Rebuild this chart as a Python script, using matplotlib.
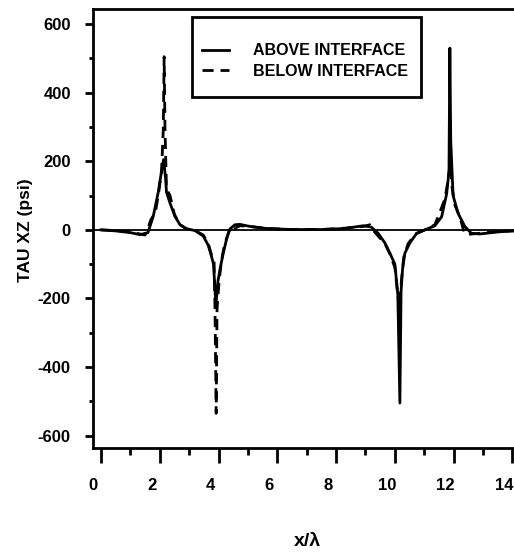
import numpy as np
import matplotlib
matplotlib.use("Agg")
from matplotlib import pyplot as plt
from matplotlib.ticker import MultipleLocator
from matplotlib.patches import Rectangle
from matplotlib.transforms import ScaledTranslation

# tau_xz above the interface (solid)
x_above = [0, 0.5, 1.0, 1.33, 1.6, 1.78, 1.95, 2.06, 2.13, 2.2, 2.23, 2.35, 2.52, 2.69, 2.91,
           3.2, 3.48, 3.65, 3.77, 3.83, 3.91, 3.98, 4.05, 4.16, 4.28, 4.39, 4.56, 4.73, 5.07,
           5.64, 6.5, 7.5, 8.3, 8.92, 9.2, 9.43, 9.66, 9.83, 10.0, 10.1, 10.17, 10.21, 10.26,
           10.34, 10.51, 10.74, 11.02, 11.36, 11.59, 11.76, 11.84, 11.87, 11.9, 11.98, 12.15,
           12.38, 12.6, 12.88, 13.5, 14.2]
tau_above = [0, -3, -8, -14, -8, 40, 110, 170, 205, 150, 110, 78, 39, 15, 3,
             -2, -18, -45, -80, -100, -220, -150, -115, -68, -25, 3, 15, 16, 10,
             4, 1, 1, 4, 12, 8, -10, -38, -68, -100, -190, -505, -180, -115,
             -68, -38, -10, 0, 12, 38, 105, 170, 530, 260, 100, 48,
             10, -10, -12, -6, -2]

# tau_xz below the interface (dashed)
x_below = [0, 0.5, 1.0, 1.33, 1.5, 1.62, 1.7, 1.85, 1.95, 2.06, 2.12, 2.15, 2.18, 2.23, 2.35,
           2.5, 2.69, 2.91, 3.2, 3.48, 3.65, 3.77, 3.85, 3.88, 3.92, 3.95, 4.02, 4.1, 4.2,
           4.35, 4.45, 4.56, 4.73, 5.07, 5.64, 6.5, 7.5, 8.3, 8.92, 9.15, 9.3, 9.45, 9.66,
           9.83, 10.0, 10.15, 10.22, 10.3, 10.45, 10.7, 11.02, 11.36, 11.5, 11.7, 11.8, 11.88,
           11.95, 12.05, 12.2, 12.35, 12.45, 12.6, 12.88, 13.5, 14.2]
tau_below = [0, -2, -6, -12, -15, 10, 30, 50, 100, 170, 290, 505, 290, 120, 100,
             45, 15, 3, -2, -15, -40, -75, -95, -230, -535, -230, -150, -90, -45,
             -5, 10, 5, 12, 10, 4, 1, 1, 5, 10, 15, -5, -20, -40,
             -70, -110, -230, -150, -80, -40, -12, 0, 15, 45, 90, 140, 195,
             120, 70, 40, -5, -15, -12, -10, -5, -2]

plt.rcParams['font.family'] = ['Liberation Sans', 'DejaVu Sans']
plt.rcParams['font.weight'] = 'bold'
plt.rcParams['axes.unicode_minus'] = False

W, H = 514, 556
fig = plt.figure(figsize=(W / 100, H / 100), dpi=100)
ax = fig.add_axes([93 / W, 108 / H, 423 / W, 439 / H])

ax.axhline(0, color='black', lw=1.3)
ax.plot(x_above, tau_above, color='black', lw=2, label='ABOVE INTERFACE')
ax.plot(x_below, tau_below, color='black', lw=2, dashes=(4, 2.5), label='BELOW INTERFACE')

ax.set_xlim(-0.27, 14.12)
ax.set_ylim(-636, 644)
ax.xaxis.set_major_locator(MultipleLocator(2))
ax.xaxis.set_minor_locator(MultipleLocator(1))
ax.yaxis.set_major_locator(MultipleLocator(200))
ax.yaxis.set_minor_locator(MultipleLocator(100))
ax.tick_params(axis='x', which='major', length=10.8, width=2, pad=11, labelsize=12)
ax.tick_params(axis='x', which='minor', length=5, width=2)
ax.tick_params(axis='y', which='major', length=6, width=2, pad=10, labelsize=12)
ax.tick_params(axis='y', which='minor', length=3, width=2)
for s in ax.spines.values():
    s.set_linewidth(2)

# x tick labels sit a little left of their ticks in the original
shift = ScaledTranslation(-8 / 100, 0, fig.dpi_scale_trans)
for t in ax.xaxis.get_major_ticks():
    t.label1.set_transform(t.label1.get_transform() + shift)

ax.set_xlabel('x/λ', fontsize=14, fontweight='bold')
ax.xaxis.set_label_coords((307 - 93) / 423, (448 - 533) / 439)
ax.set_ylabel('TAU XZ (psi)', fontsize=12.5, fontweight='bold')
ax.yaxis.set_label_coords((33 - 93) / 423, 0.497)

leg = ax.legend(loc='center left', bbox_to_anchor=(202 / W, 1 - 61 / H),
                bbox_transform=fig.transFigure, frameon=False, borderpad=0,
                borderaxespad=0, handlelength=1.7, handletextpad=1.5,
                labelspacing=0.35, prop={'size': 11.5, 'weight': 'bold'})
fig.add_artist(Rectangle((192 / W, 1 - 97 / H), 229 / W, 80 / H, transform=fig.transFigure,
                         fill=False, lw=2, ec='black'))

fig.savefig('out.png', dpi=100)
